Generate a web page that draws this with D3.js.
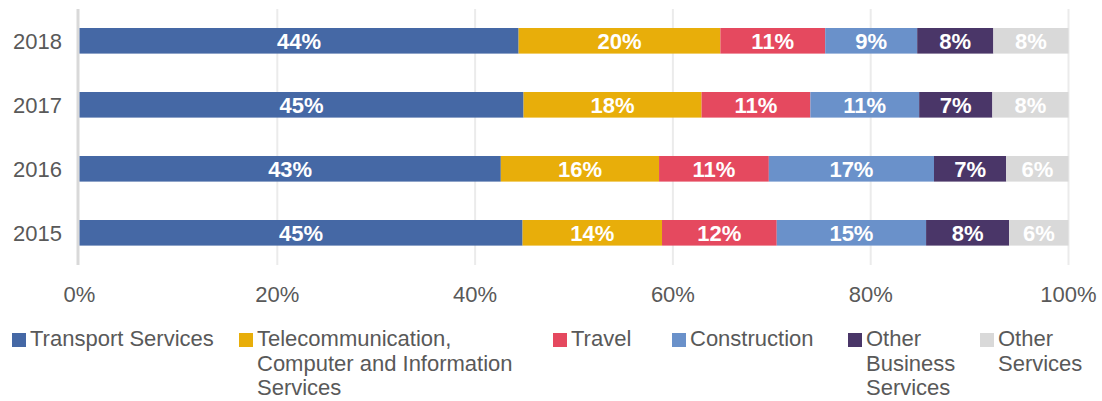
<!DOCTYPE html>
<html>
<head>
<meta charset="utf-8">
<script src="https://cdn.jsdelivr.net/npm/d3@7"></script>
<style>
  html, body { margin: 0; padding: 0; background: #fff; }
  svg { display: block; font-family: "Liberation Sans", Arial, Helvetica, sans-serif; }
</style>
</head>
<body>
<div id="chart"></div>
<script>
// data (shares in %)
const years = ['2018', '2017', '2016', '2015'];
const seriesNames = [
  'Transport Services',
  'Telecommunication, Computer and Information Services',
  'Travel',
  'Construction',
  'Other Business Services',
  'Other Services'
];
const transport = [44.4, 44.9, 42.6, 44.8];
const telecom   = [20.4, 18.0, 16.0, 14.1];
const travel    = [10.6, 11.0, 11.1, 11.6];
const construction = [9.3, 11.0, 16.7, 15.1];
const otherBusiness = [7.7, 7.4, 7.3, 8.4];
const otherServices = [7.6, 7.7, 6.3, 6.0];
const xTicks = [0, 20, 40, 60, 80, 100];

const colors = ['#4568a5', '#e8ae0a', '#e5495f', '#6a91ca', '#4a3668', '#d9d9d9'];

const width = 1102, height = 401;

const svg = d3.select('#chart').append('svg')
  .attr('width', width)
  .attr('height', height);

const keys = ['transport', 'telecom', 'travel', 'construction', 'otherBusiness', 'otherServices'];
const cols = [transport, telecom, travel, construction, otherBusiness, otherServices];
const table = years.map((y, i) => {
  const row = { year: y };
  keys.forEach((k, j) => { row[k] = cols[j][i]; });
  return row;
});

const x = d3.scaleLinear().domain([0, 100]).range([79.5, 1068.5]);
const y = d3.scaleBand().domain(years).range([8.8, 264.8])
  .paddingInner(0.6).paddingOuter(0.3);

// gridlines
svg.append('g')
  .selectAll('line')
  .data(xTicks.slice(1))
  .join('line')
  .attr('x1', d => x(d)).attr('x2', d => x(d))
  .attr('y1', 9).attr('y2', 265)
  .attr('stroke', '#ebebeb')
  .attr('stroke-width', 2);

svg.append('line')
  .attr('x1', x(0) - 1.5).attr('x2', x(0) - 1.5)
  .attr('y1', 9).attr('y2', 265)
  .attr('stroke', '#d9d9d9')
  .attr('stroke-width', 3);

// x tick labels
svg.append('g')
  .selectAll('text')
  .data(xTicks)
  .join('text')
  .attr('x', d => x(d))
  .attr('y', 302)
  .attr('text-anchor', 'middle')
  .attr('fill', '#595959')
  .style('font-size', '22px')
  .text(d => d + '%');

// year labels
svg.append('g')
  .selectAll('text')
  .data(years)
  .join('text')
  .attr('x', 62)
  .attr('y', d => y(d) + y.bandwidth() / 2)
  .attr('dy', '0.36em')
  .attr('text-anchor', 'end')
  .attr('fill', '#595959')
  .style('font-size', '22px')
  .text(d => d);

// stacked bars
const stack = d3.stack().keys(keys);
const layers = stack(table);

const layer = svg.append('g')
  .selectAll('g')
  .data(layers)
  .join('g')
  .attr('fill', (d, i) => colors[i]);

layer.selectAll('rect')
  .data(d => d)
  .join('rect')
  .attr('x', d => x(d[0]))
  .attr('y', d => y(d.data.year))
  .attr('width', d => x(d[1]) - x(d[0]))
  .attr('height', y.bandwidth());

layer.selectAll('text')
  .data(d => d)
  .join('text')
  .attr('x', d => (x(d[0]) + x(d[1])) / 2)
  .attr('y', d => y(d.data.year) + y.bandwidth() / 2)
  .attr('dy', '0.37em')
  .attr('text-anchor', 'middle')
  .attr('fill', '#fff')
  .style('font-size', '22px')
  .style('font-weight', 'bold')
  .text(d => Math.round(d[1] - d[0]) + '%');

// legend
const legendX = [12, 239, 553, 672, 848, 980];
const legendWrap = [220, 275, 100, 150, 100, 100];

const legend = svg.append('g')
  .selectAll('g')
  .data(seriesNames)
  .join('g')
  .attr('transform', (d, i) => `translate(${legendX[i]},330)`);

legend.append('rect')
  .attr('x', 0).attr('y', 3)
  .attr('width', 14).attr('height', 14)
  .attr('fill', (d, i) => colors[i]);

legend.append('text')
  .attr('x', 18)
  .attr('y', 16)
  .attr('fill', '#595959')
  .style('font-size', '22px')
  .each(function (d, i) {
    const text = d3.select(this);
    const words = d.split(' ');
    let line = [];
    let tspan = text.append('tspan').attr('x', 18).attr('dy', 0);
    words.forEach(w => {
      line.push(w);
      tspan.text(line.join(' '));
      if (line.length > 1 && tspan.node().getComputedTextLength() > legendWrap[i]) {
        line.pop();
        tspan.text(line.join(' '));
        line = [w];
        tspan = text.append('tspan').attr('x', 18).attr('dy', 24.5).text(w);
      }
    });
  });
</script>
</body>
</html>
